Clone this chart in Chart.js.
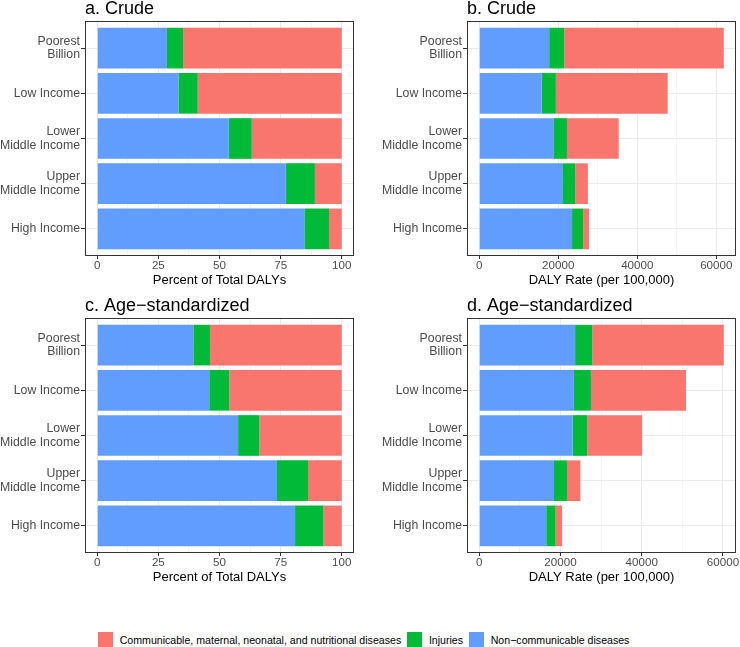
<!DOCTYPE html>
<html>
<head>
<meta charset="utf-8">
<script src="https://cdn.jsdelivr.net/npm/chart.js@4.4.0/dist/chart.umd.min.js"></script>
<style>
  html, body { margin: 0; padding: 0; background: #fff; }
  body { width: 740px; height: 647px; position: relative; overflow: hidden; font-family: "Liberation Sans", Arial, Helvetica, sans-serif; }
  .panel { position: absolute; }
  .legend { position: absolute; left: 98px; top: 632px; height: 15px; display: flex; align-items: center; font-size: 10.6px; color: #000; white-space: nowrap; }
  .item { display: flex; align-items: center; margin-right: 6px; }
  .key { width: 15px; height: 15px; margin-right: 6.7px; }
</style>
</head>
<body>
<canvas id="panelA" class="panel" width="370" height="290" style="left:0;top:0"></canvas>
<canvas id="panelB" class="panel" width="370" height="290" style="left:370px;top:0"></canvas>
<canvas id="panelC" class="panel" width="370" height="290" style="left:0;top:297px"></canvas>
<canvas id="panelD" class="panel" width="370" height="290" style="left:370px;top:297px"></canvas>
<div class="legend" id="legend"></div>

<script>
const categories = [['Poorest', 'Billion'], 'Low Income', ['Lower', 'Middle Income'], ['Upper', 'Middle Income'], 'High Income'];
const seriesNames = ['Communicable, maternal, neonatal, and nutritional diseases', 'Injuries', 'Non\u2212communicable diseases'];
const seriesColors = ['#F8766D', '#00BA38', '#619CFF'];

// a. Crude, percent of total DALYs
const crudePctNcd = [28.5, 33.2, 53.8, 77.1, 84.7];
const crudePctInj = [6.6, 7.9, 9.4, 11.9, 10.1];
const crudePctCmnn = [64.9, 58.9, 36.8, 11.0, 5.2];

// b. Crude, DALY rate per 100,000
const crudeRateNcd = [17700, 15800, 18900, 21200, 23500];
const crudeRateInj = [3800, 3600, 3300, 3100, 2800];
const crudeRateCmnn = [40400, 28300, 13100, 3200, 1500];

// c. Age-standardized, percent of total DALYs
const agePctNcd = [39.3, 45.8, 57.6, 73.5, 80.9];
const agePctInj = [6.8, 8.2, 8.7, 12.7, 11.6];
const agePctCmnn = [53.9, 46.0, 33.7, 13.8, 7.5];

// d. Age-standardized, DALY rate per 100,000
const ageRateNcd = [23600, 23300, 23000, 18400, 16500];
const ageRateInj = [4200, 4200, 3600, 3200, 2300];
const ageRateCmnn = [32400, 23400, 13500, 3300, 1600];

const pctTicks = [0, 25, 50, 75, 100];
const rateTicks = [0, 20000, 40000, 60000];

const FONT = '"Liberation Sans", Arial, Helvetica, sans-serif';
Chart.defaults.font.family = FONT;

// panel border + title, drawn like ggplot's theme_bw
const panelFrame = {
    id: 'panelFrame',
    afterDraw(chart, args, opts) {
        const { ctx, chartArea: a } = chart;
        ctx.save();
        ctx.strokeStyle = '#333333';
        ctx.lineWidth = 1;
        ctx.strokeRect(Math.round(a.left) + 0.5, Math.round(a.top) + 0.5,
            Math.round(a.right - a.left) - 1, Math.round(a.bottom - a.top) - 1);
        ctx.fillStyle = '#000';
        ctx.font = '18px ' + FONT;
        ctx.textBaseline = 'alphabetic';
        ctx.textAlign = 'left';
        ctx.fillText(opts.title, a.left, a.top - 7);
        ctx.restore();
    }
};

function makePanel(id, title, ncd, inj, cmnn, majorTicks, axisTitle, yWidth, padRight) {
    const totals = ncd.map((v, i) => v + inj[i] + cmnn[i]);
    const top = Math.max(...totals);
    const minorTicks = majorTicks.slice(1).map((v, i) => (v + majorTicks[i]) / 2);
    const xTicks = majorTicks.concat(minorTicks).sort((p, q) => p - q);
    const isMajor = v => majorTicks.includes(v);
    const toPts = arr => arr.map((v, i) => ({ x: v, y: i }));

    return new Chart(document.getElementById(id), {
        type: 'bar',
        data: {
            datasets: [
                { label: seriesNames[2], data: toPts(ncd), backgroundColor: seriesColors[2] },
                { label: seriesNames[1], data: toPts(inj), backgroundColor: seriesColors[1] },
                { label: seriesNames[0], data: toPts(cmnn), backgroundColor: seriesColors[0] }
            ]
        },
        options: {
            indexAxis: 'y',
            responsive: false,
            animation: false,
            devicePixelRatio: 1,
            layout: { padding: { top: 21, right: padRight, left: 0, bottom: 2 } },
            datasets: { bar: { categoryPercentage: 1, barPercentage: 0.9, borderWidth: 0 } },
            plugins: {
                legend: { display: false },
                tooltip: { enabled: false },
                panelFrame: { title: title }
            },
            scales: {
                x: {
                    type: 'linear',
                    stacked: true,
                    offset: false,
                    min: -0.05 * top,
                    max: 1.05 * top,
                    afterBuildTicks: s => { s.ticks = xTicks.map(v => ({ value: v })); },
                    afterFit: s => { s.height = 32; },
                    border: { display: false },
                    grid: {
                        offset: false,
                        color: '#EBEBEB',
                        lineWidth: c => (c.tick && isMajor(c.tick.value)) ? 1 : 0.5,
                        tickColor: c => (c.tick && isMajor(c.tick.value)) ? '#333333' : 'rgba(0,0,0,0)',
                        tickLength: 3,
                        tickWidth: 1
                    },
                    ticks: {
                        autoSkip: false,
                        maxRotation: 0,
                        padding: 0,
                        color: '#4D4D4D',
                        font: { size: 11.6 },
                        callback: v => isMajor(v) ? String(v) : ''
                    },
                    title: {
                        display: true,
                        text: axisTitle,
                        color: '#000',
                        font: { size: 13 },
                        padding: { top: 0, bottom: 0 }
                    }
                },
                y: {
                    type: 'linear',
                    stacked: true,
                    reverse: true,
                    offset: false,
                    min: -0.6,
                    max: 4.6,
                    afterBuildTicks: s => { s.ticks = categories.map((c, i) => ({ value: i })); },
                    afterFit: s => { s.width = yWidth; },
                    border: { display: false },
                    grid: {
                        offset: false,
                        color: '#EBEBEB',
                        lineWidth: 1,
                        tickColor: '#333333',
                        tickLength: 4
                    },
                    ticks: {
                        autoSkip: false,
                        padding: 1,
                        color: '#4D4D4D',
                        font: { size: 12.3, lineHeight: 1.08 },
                        callback: v => categories[v]
                    }
                }
            }
        },
        plugins: [panelFrame]
    });
}

makePanel('panelA', 'a. Crude', crudePctNcd, crudePctInj, crudePctCmnn, pctTicks, 'Percent of Total DALYs', 85, 16);
makePanel('panelB', 'b. Crude', crudeRateNcd, crudeRateInj, crudeRateCmnn, rateTicks, 'DALY Rate (per 100,000)', 97, 4);
makePanel('panelC', 'c. Age\u2212standardized', agePctNcd, agePctInj, agePctCmnn, pctTicks, 'Percent of Total DALYs', 85, 16);
makePanel('panelD', 'd. Age\u2212standardized', ageRateNcd, ageRateInj, ageRateCmnn, rateTicks, 'DALY Rate (per 100,000)', 97, 4);

// shared legend (ggplot order)
const legend = document.getElementById('legend');
seriesNames.forEach((name, i) => {
    const item = document.createElement('div');
    item.className = 'item';
    const key = document.createElement('span');
    key.className = 'key';
    key.style.background = seriesColors[i];
    const label = document.createElement('span');
    label.textContent = name;
    item.appendChild(key);
    item.appendChild(label);
    legend.appendChild(item);
});
</script>
</body>
</html>
